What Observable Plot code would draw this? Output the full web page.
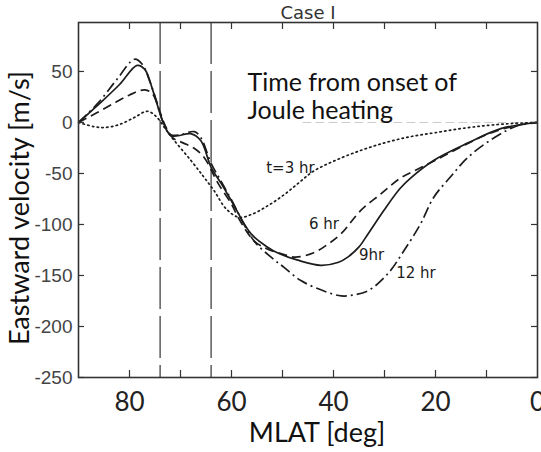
<!DOCTYPE html>
<html><head><meta charset="utf-8">
<script src="https://cdn.jsdelivr.net/npm/d3@7"></script>
<script src="https://cdn.jsdelivr.net/npm/@observablehq/plot@0.6"></script>
<style>body{margin:0;background:#fff}</style>
</head><body><div id="chart"></div>
<script>
// ---- data ----
const mlat3 = [90, 87, 85, 82, 79, 76.5, 74.8, 73, 71.5, 68, 65.5, 63.4, 61, 58.5, 56, 53, 50, 47, 44, 40, 35, 30, 25, 20, 15, 10, 5, 0];
const vel3  = [0, -4, -5, -2, 5, 11, 6, -6, -16, -37, -53, -67, -85, -93, -90, -82, -72, -60, -48, -38, -28, -20, -14, -10, -6, -3, -1, 0];

const mlat6 = [90, 86.6, 83, 80, 77, 75.5, 74, 73, 71.5, 69.5, 67.4, 65.4, 62.6, 60, 58.7, 55.6, 53, 50, 47.5, 44, 41, 38.5, 34.6, 30.7, 27, 24, 20, 15, 10, 5, 0];
const vel6  = [0, 9, 19, 27, 32, 28, 10, -3, -15, -20, -25, -34, -60, -80, -93, -116, -124, -129, -132, -128, -119, -109, -86, -70, -55, -47, -37, -24, -12, -4, 0];

const mlat9 = [90, 86, 82, 78.5, 77, 75.4, 73.4, 71.9, 70.5, 68, 66, 64, 62, 60, 56.2, 53, 50.9, 47, 42.5, 39, 37.2, 35, 33.2, 30.1, 27, 25, 20.3, 13.6, 7.2, 0];
const vel9  = [0, 18, 37, 56, 52, 31, 0, -13, -13, -11, -18, -44, -60, -77, -109, -122, -128, -135, -140, -137, -132, -122, -109, -86, -65, -55, -37, -20, -6, 0];

const mlat12 = [90, 86, 82.5, 79, 77.5, 76, 74.5, 73.4, 71.9, 70, 67.3, 66, 64, 62, 60, 55.6, 52, 49.7, 46.4, 42, 38.5, 36, 33.2, 29.3, 26.1, 23, 20.3, 17, 13.6, 8.5, 3.8, 0];
const vel12  = [0, 20, 42, 62, 57, 40, 18, 0, -12, -12, -9, -15, -40, -58, -76, -116, -133, -142, -155, -165, -170, -169, -165, -148, -125, -100, -73, -53, -34, -15, -3, 0];

const seriesNames = ["3 hr", "6 hr", "9 hr", "12 hr"];
const seriesDash  = ["1.4,3.4", "9,5", null, "11,4,2,4"];

const curveLabelText = ["t=3 hr", "6 hr", "9hr", "12 hr"];
const curveLabelMlat = [53.2, 44.8, 35, 27.7];
const curveLabelVel  = [-45, -100, -130, -148];

const separatorMlat = [74, 64];
const xLabelTicks = [80, 60, 40, 20, 0];
const xMinorTicks = [80, 70, 60, 50, 40, 30, 20, 10];
const yTicks = [50, 0, -50, -100, -150, -200, -250];
const faintZeroMlat = [46, 0];

// ---- build table ----
const seriesData = [[mlat3, vel3], [mlat6, vel6], [mlat9, vel9], [mlat12, vel12]];
const rows = seriesData.flatMap(([m, v], k) => m.map((x, i) => ({series: seriesNames[k], mlat: x, vel: v[i]})));
const labels = curveLabelText.map((t, i) => ({text: t, mlat: curveLabelMlat[i], vel: curveLabelVel[i]}));
const faint = faintZeroMlat.map(m => ({mlat: m, vel: 0}));

const W = 541, H = 452, mL = 78, mR = 4, mT = 22, mB = 75;
const innerW = W - mL - mR, innerH = H - mT - mB;
const ink = "#1c1c1c";
const calibriLike = "Lato, 'Open Sans', sans-serif";
const scanFont = "'Liberation Sans', Arial, sans-serif";

const lineMarks = seriesNames.map((name, k) =>
  Plot.line(rows.filter(d => d.series === name), {
    x: "mlat", y: "vel", curve: "catmull-rom",
    stroke: ink, strokeWidth: 1.7,
    strokeDasharray: seriesDash[k] ?? undefined,
    strokeLinecap: k === 0 ? "round" : "butt"
  })
);

const chart = Plot.plot({
  width: W, height: H,
  marginLeft: mL, marginRight: mR, marginTop: mT, marginBottom: mB,
  style: {background: "white", overflow: "visible"},
  x: {domain: [90, 0], label: null},
  y: {domain: [-250, 98], label: null},
  marks: [
    Plot.line(faint, {x: "mlat", y: "vel", stroke: "#cccccc", strokeWidth: 1, strokeDasharray: "8,5"}),
    Plot.ruleX(separatorMlat, {stroke: "#333", strokeWidth: 1.2, strokeDasharray: "42,7"}),
    ...lineMarks,
    Plot.frame({stroke: "#333", strokeWidth: 1.6}),
    Plot.tickX(xMinorTicks, {x: d => d, insetTop: innerH - 7, stroke: "#333", strokeWidth: 1.2}),
    Plot.tickX(xMinorTicks, {x: d => d, insetBottom: innerH - 7, stroke: "#333", strokeWidth: 1.2}),
    Plot.tickY(yTicks, {y: d => d, insetRight: innerW - 6, stroke: "#333", strokeWidth: 1.2}),
    Plot.tickY(yTicks, {y: d => d, insetLeft: innerW - 6, stroke: "#333", strokeWidth: 1.2}),
    Plot.axisX(xLabelTicks, {anchor: "bottom", tickSize: 0, tickPadding: 15, fontSize: 26, fontFamily: calibriLike, fill: "#222", label: null}),
    Plot.axisY(yTicks, {anchor: "left", tickSize: 0, tickPadding: 6, fontSize: 19, fontFamily: scanFont, fill: "#444", label: null, tickFormat: d => String(d), ariaLabel: "y-axis tick label"}),
    Plot.text(labels, {x: "mlat", y: "vel", text: "text", textAnchor: "start", fontSize: 15, fontFamily: "'DejaVu Sans', sans-serif", fill: ink}),
    Plot.text(["MLAT [deg]"], {frameAnchor: "bottom", textAnchor: "middle", lineAnchor: "middle", dx: 9, dy: 56, fontSize: 27, fontFamily: calibriLike, fill: "#111"}),
    Plot.text(["Eastward velocity [m/s]"], {frameAnchor: "left", textAnchor: "middle", lineAnchor: "middle", rotate: -90, dx: -58, dy: 8, fontSize: 27, fontFamily: calibriLike, fill: "#111"}),
    Plot.text(["Case I"], {frameAnchor: "top", textAnchor: "middle", lineAnchor: "middle", dy: -9, fontSize: 18, fontFamily: "'DejaVu Sans', sans-serif", fill: "#333"}),
    Plot.text(["Time from onset of\nJoule heating"], {frameAnchor: "top-left", dx: 169, dy: 49, textAnchor: "start", lineAnchor: "top", lineHeight: 1.12, fontSize: 25, fontFamily: calibriLike, fill: "#111"})
  ]
});
// narrow the scanned-style y tick numbers horizontally (anchored at their right edge)
chart.querySelectorAll('g[aria-label="y-axis tick label"] text').forEach(t => {
  const tr = t.getAttribute("transform") || "";
  t.setAttribute("transform", tr + " scale(0.76,1)");
});
document.getElementById("chart").append(chart);
</script>
</body></html>
